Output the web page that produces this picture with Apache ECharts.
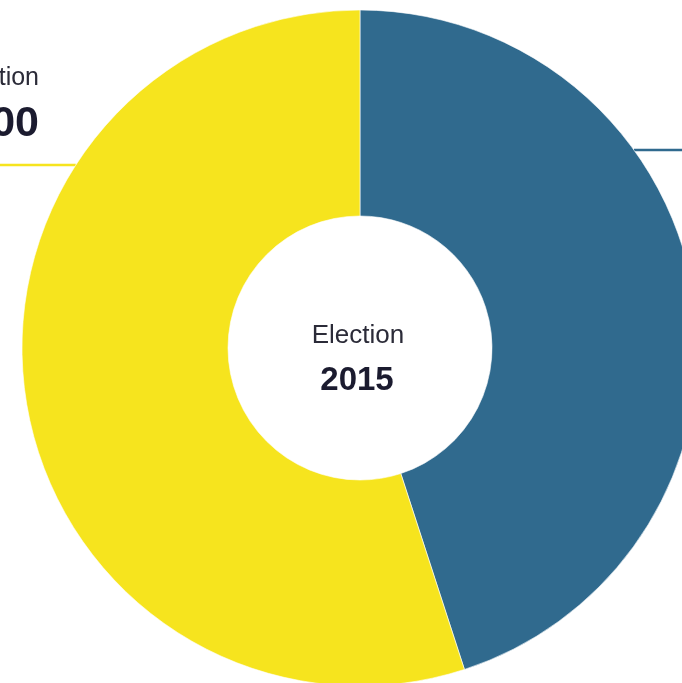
<!DOCTYPE html>
<html>
<head>
<meta charset="utf-8">
<script src="https://cdn.jsdelivr.net/npm/echarts@6/dist/echarts.min.js"></script>
<style>
html,body{margin:0;padding:0;background:#fff;}
#chart{width:682px;height:683px;}
</style>
</head>
<body>
<div id="chart"></div>
<script>
// Data
var categories = ['2010', '2000'];
var values = [45, 55];
var colors = ['#306A8E', '#F6E41E'];
var centerTitle = 'Election';
var centerYear = '2015';

// Layout
var CX = 360, CY = 348, R_OUT = 338, R_IN = 132;
var labelLineY = [150, 165];

function edgeX(y, side) {
  var d = Math.sqrt(R_OUT * R_OUT - (y - CY) * (y - CY));
  return side < 0 ? CX - d : CX + d;
}

var chart = echarts.init(document.getElementById('chart'), null, {renderer: 'canvas'});
chart.setOption({
  animation: false,
  backgroundColor: '#ffffff',
  series: [{
    type: 'pie',
    center: [CX, CY],
    radius: [R_IN, R_OUT],
    startAngle: 90,
    clockwise: true,
    avoidLabelOverlap: false,
    itemStyle: {borderColor: '#ffffff', borderWidth: 0.6},
    emphasis: {disabled: true},
    data: categories.map(function (c, i) {
      return {name: c, value: values[i], itemStyle: {color: colors[i]}};
    }),
    label: {
      show: true,
      position: 'outside',
      formatter: '{a|Election}\n{b|{b}}',
      rich: {
        a: {fontSize: 25, lineHeight: 30, color: '#2b2b38', fontFamily: 'Liberation Sans'},
        b: {fontSize: 43, lineHeight: 62, fontWeight: 'bold', color: '#1b1b2f', fontFamily: 'Liberation Sans'}
      }
    },
    labelLine: {show: true, length: 10, length2: 10, lineStyle: {width: 2.5}},
    labelLayout: function (p) {
      var i = p.dataIndex;
      var y = labelLineY[i];
      if (i === 1) {
        var ex = edgeX(y, -1);
        return {
          x: 39, y: 63, align: 'right', verticalAlign: 'top',
          labelLinePoints: [[ex, y], [ex - 1, y], [-300, y]]
        };
      } else {
        var ex2 = edgeX(y, 1);
        return {
          x: 720, y: 48, align: 'left', verticalAlign: 'top',
          labelLinePoints: [[ex2, y], [ex2 + 1, y], [1000, y]]
        };
      }
    }
  }],
  graphic: [
    {type: 'text', x: CX - 2, y: 336, style: {text: centerTitle, fontSize: 26, fontFamily: 'Liberation Sans', fill: '#2b2b38', align: 'center', verticalAlign: 'middle'}},
    {type: 'text', x: CX - 3, y: 381, style: {text: centerYear, fontSize: 33, fontWeight: 'bold', fontFamily: 'Liberation Sans', fill: '#1b1b2f', align: 'center', verticalAlign: 'middle'}}
  ]
});
</script>
</body>
</html>
